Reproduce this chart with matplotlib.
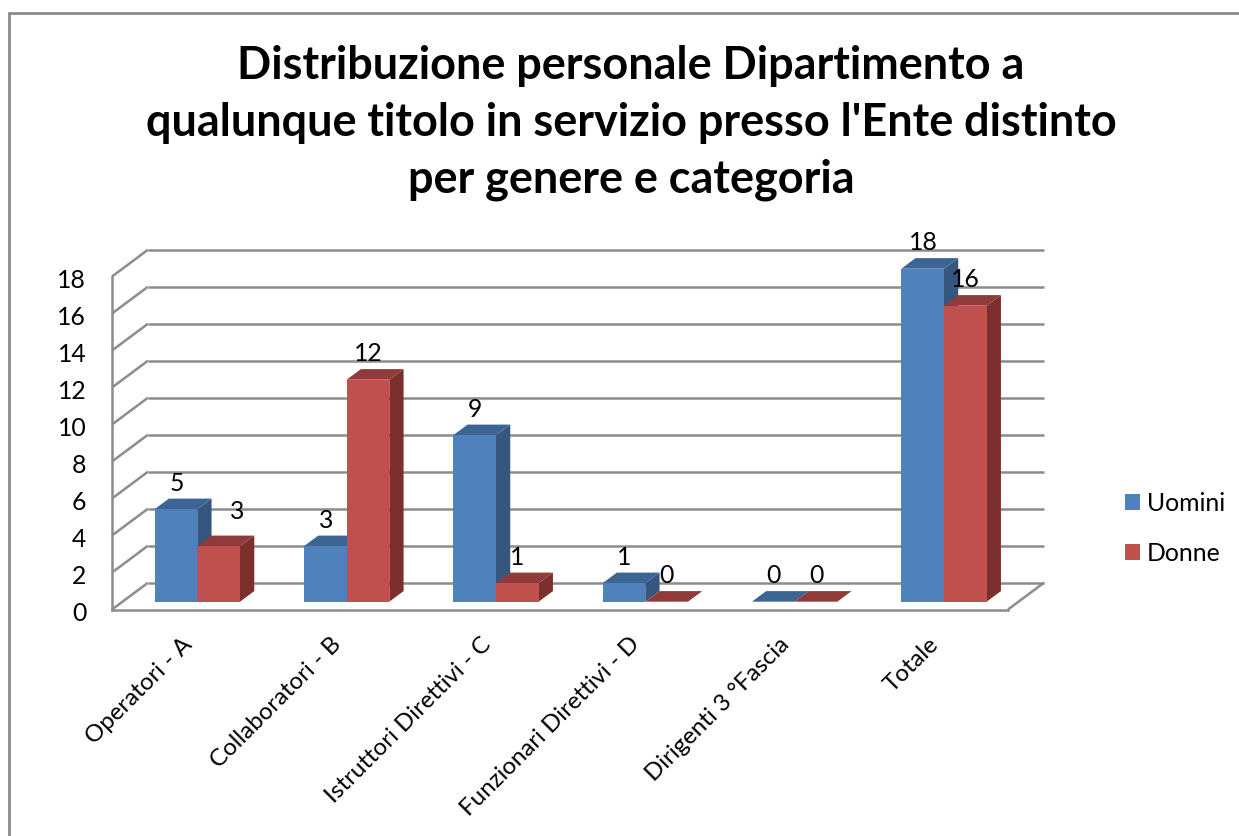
import matplotlib
matplotlib.use("Agg")
import matplotlib.pyplot as plt
from matplotlib.patches import Rectangle
from matplotlib.transforms import ScaledTranslation

plt.rcParams['font.family'] = ['Lato', 'DejaVu Sans']

categories = ["Operatori - A", "Collaboratori - B", "Istruttori Direttivi - C",
              "Funzionari Direttivi - D", "Dirigenti 3 °Fascia", "Totale"]
uomini = [5, 3, 9, 1, 0, 18]
donne = [3, 12, 1, 0, 0, 16]
y_ticks = list(range(0, 19, 2))
title = ("Distribuzione personale Dipartimento a\n"
         "qualunque titolo in servizio presso l'Ente distinto\n"
         "per genere e categoria")

W, H = 1239, 836
GRID = "#8c8c8c"
BLUE, BLUE_TOP, BLUE_SIDE = "#4F81BD", "#3C6594", "#35567F"
RED, RED_TOP, RED_SIDE = "#C0504D", "#8F3B39", "#7C302E"

fig = plt.figure(figsize=(W / 100, H / 100), dpi=100, facecolor="white")

# outer chart frame, running off the right and bottom edges
fig.add_artist(Rectangle((8.5 / W, -0.05), 1.1, 1.05 - 13 / H, transform=fig.transFigure,
                         fill=False, edgecolor=GRID, lw=2.0))

# front plane of the 3D box
ax = fig.add_axes([112 / W, (H - 609.5) / H, 896 / W, 333 / H])
ax.set_xlim(-0.5, 5.5)
ax.set_ylim(0, 18)
ax.patch.set_alpha(0)

ux, uy = 896 / 6, 333 / 18          # pixels per data unit
wall_dx, wall_dy = 36 / ux, 26.8 / uy
plane_dx, plane_dy = 10.6 / ux, 7.8 / uy
bar_dx, bar_dy = 14.3 / ux, 10.6 / uy
bar_w = 42.7 / ux

lw = 1.8
for s in ("top", "right"):
    ax.spines[s].set_visible(False)
for s in ("left", "bottom"):
    ax.spines[s].set_color(GRID)
    ax.spines[s].set_linewidth(lw)

# walls: horizontal gridlines at the back, diagonals on the left side
for v in y_ticks:
    ax.plot([-0.5 + wall_dx, 5.5 + wall_dx], [v + wall_dy, v + wall_dy],
            color=GRID, lw=lw, clip_on=False, zorder=1, solid_capstyle="butt")
    ax.plot([-0.5, -0.5 + wall_dx], [v, v + wall_dy], color=GRID, lw=lw, clip_on=False, zorder=1,
            solid_capstyle="butt")
ax.plot([-0.5 + 6, 5.5 + wall_dx], [0, wall_dy], color=GRID, lw=lw, clip_on=False, zorder=1,
        solid_capstyle="butt")


def bars3d(xs, vals, front, top, side, label, z):
    ax.bar(xs, vals, bar_w, bottom=plane_dy, color=front, label=label, zorder=z + 0.2,
           clip_on=False, linewidth=0)
    for x, v in zip(xs, vals):
        l, r = x - bar_w / 2, x + bar_w / 2
        b, t = plane_dy, plane_dy + v
        ax.fill([r, r + bar_dx, r + bar_dx, r], [b, b + bar_dy, t + bar_dy, t],
                color=side, lw=0, zorder=z, clip_on=False)
        ax.fill([l, l + bar_dx, r + bar_dx, r], [t, t + bar_dy, t + bar_dy, t],
                color=top, lw=0, zorder=z + 0.1, clip_on=False)


pos = list(range(len(categories)))
x_u = [p + plane_dx - bar_w / 2 for p in pos]
x_d = [p + plane_dx + bar_w / 2 for p in pos]
bars3d(x_u, uomini, BLUE, BLUE_TOP, BLUE_SIDE, "Uomini", 2)
bars3d(x_d, donne, RED, RED_TOP, RED_SIDE, "Donne", 3)

# value labels
fs = 17.8
for x, v in zip(x_u, uomini):
    ax.annotate(str(v), (x, v + plane_dy), xytext=(0.3, 18.7), textcoords="offset points",
                ha="center", va="center", fontsize=fs, color="black", zorder=6, annotation_clip=False)
for i, (x, v) in enumerate(zip(x_d, donne)):
    # the first red label sits moved aside in the original
    off = (13.7, 25.2) if i == 0 else (0, 18.7)
    ax.annotate(str(v), (x, v + plane_dy), xytext=off, textcoords="offset points",
                ha="center", va="center", fontsize=fs, color="black", zorder=6, annotation_clip=False)

ax.set_yticks(y_ticks)
ax.set_yticklabels([str(v) for v in y_ticks], fontsize=fs)
ax.tick_params(axis="y", length=0, pad=18.5)
ax.set_xticks(pos)
ax.set_xticklabels(categories, rotation=45, ha="right", rotation_mode="anchor", fontsize=17.3)
ax.tick_params(axis="x", length=0, pad=18)

shift_x = ScaledTranslation(-5.5 / 100, 1 / 100, fig.dpi_scale_trans)
for lab in ax.get_xticklabels():
    lab.set_transform(lab.get_transform() + shift_x)
shift_y = ScaledTranslation(0, -1.8 / 100, fig.dpi_scale_trans)
for lab in ax.get_yticklabels():
    lab.set_transform(lab.get_transform() + shift_y)

fig.text(631 / W, 1 - 123 / H, title, ha="center", va="center", fontsize=32.4, fontweight="bold",
         linespacing=1.43, color="black")

fig.legend(*ax.get_legend_handles_labels(), loc="center left",
           bbox_to_anchor=(1125 / W, 1 - 528.5 / H), bbox_transform=fig.transFigure,
           frameon=False, fontsize=fs, handlelength=0.61, handleheight=0.61,
           handletextpad=0.28, labelspacing=1.1, borderpad=0, borderaxespad=0)

fig.savefig("out.png", dpi=100, facecolor="white")
